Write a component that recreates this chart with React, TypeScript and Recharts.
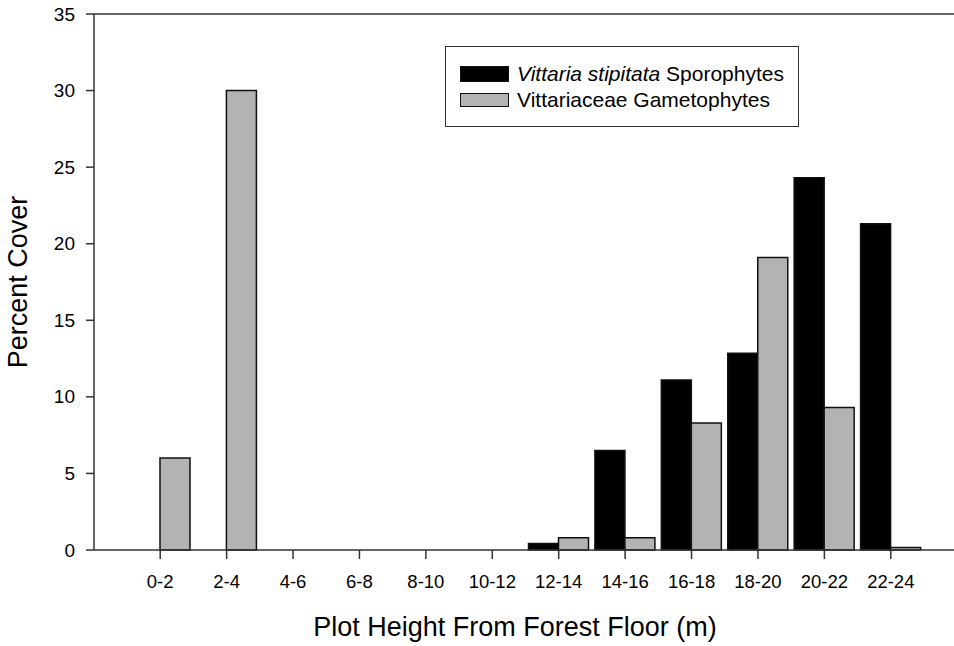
import { BarChart, Bar, XAxis, YAxis, ReferenceLine } from 'recharts';

const heights = ['0-2', '2-4', '4-6', '6-8', '8-10', '10-12', '12-14', '14-16', '16-18', '18-20', '20-22', '22-24'];
const sporophytes = [0, 0, 0, 0, 0, 0, 0.42, 6.5, 11.1, 12.85, 24.3, 21.3];
const gametophytes = [6.0, 30.0, 0, 0, 0, 0, 0.8, 0.8, 8.3, 19.1, 9.3, 0.17];
const yTicks = [0, 5, 10, 15, 20, 25, 30, 35];

const data = heights.map((h, i) => ({
  height: h,
  sporophytes: sporophytes[i],
  gametophytes: gametophytes[i],
}));

const font = 'Arial, "Liberation Sans", sans-serif';
const axisColor = '#333';

// tick text drawn by hand so the size sticks
function XTick(props: any) {
  const { x, payload } = props;
  return (
    <text x={x} y={588} textAnchor="middle" fontFamily={font} fontSize={18.5} fill="#000">
      {payload.value}
    </text>
  );
}

function YTick(props: any) {
  const { y, payload } = props;
  return (
    <text x={75} y={y} textAnchor="end" dominantBaseline="central" fontFamily={font} fontSize={19} fill="#000">
      {payload.value}
    </text>
  );
}

function YTitle(props: any) {
  const vb = props.viewBox || { x: 0, y: 0, width: 0, height: 0 };
  const x = 18;
  const y = vb.y + vb.height / 2;
  return (
    <text
      x={x}
      y={y}
      transform={`rotate(-90, ${x}, ${y})`}
      textAnchor="middle"
      dominantBaseline="central"
      fontFamily={font}
      fontSize={27}
      fill="#000"
    >
      Percent Cover
    </text>
  );
}

function XTitle() {
  return (
    <text x={515} y={636} textAnchor="middle" fontFamily={font} fontSize={27} fill="#000">
      Plot Height From Forest Floor (m)
    </text>
  );
}

export default function App() {
  return (
    <div style={{ position: 'absolute', left: 0, top: 0, width: 954, height: 646, background: '#fff' }}>
      <BarChart
        width={954}
        height={646}
        data={data}
        margin={{ top: 14, right: 0, left: 0, bottom: 0 }}
        barGap={0}
        barSize={30}
      >
        <XAxis
          dataKey="height"
          height={96}
          padding={{ left: 33, right: 30 }}
          stroke={axisColor}
          strokeWidth={1.5}
          tickSize={9}
          tick={<XTick />}
          interval={0}
          label={<XTitle />}
        />
        <YAxis
          width={94}
          domain={[0, 35]}
          ticks={yTicks}
          stroke={axisColor}
          strokeWidth={1.5}
          tickSize={8}
          tick={<YTick />}
          label={<YTitle />}
        />
        <ReferenceLine y={35} stroke={axisColor} strokeWidth={1.5} />
        <Bar
          dataKey="sporophytes"
          name="Vittaria stipitata Sporophytes"
          fill="#000"
          stroke="#111"
          strokeWidth={1.5}
          isAnimationActive={false}
        />
        <Bar
          dataKey="gametophytes"
          name="Vittariaceae Gametophytes"
          fill="#b3b3b3"
          stroke="#111"
          strokeWidth={1.5}
          isAnimationActive={false}
        />
      </BarChart>
      <div
        style={{
          position: 'absolute',
          left: 445,
          top: 46,
          width: 354,
          height: 81,
          border: '1.5px solid #333',
          boxSizing: 'border-box',
          fontFamily: font,
          fontSize: 21,
          color: '#000',
        }}
      >
        <div style={{ position: 'absolute', left: 14, top: 14, display: 'flex', alignItems: 'center', height: 26, whiteSpace: 'nowrap' }}>
          <span style={{ width: 49, height: 16, background: '#000', border: '1px solid #111', boxSizing: 'border-box', marginRight: 8 }} />
          <span>
            <i>Vittaria stipitata</i> Sporophytes
          </span>
        </div>
        <div style={{ position: 'absolute', left: 14, top: 40, display: 'flex', alignItems: 'center', height: 26, whiteSpace: 'nowrap' }}>
          <span style={{ width: 49, height: 14, background: '#b3b3b3', border: '1.5px solid #111', boxSizing: 'border-box', marginRight: 8 }} />
          <span>Vittariaceae Gametophytes</span>
        </div>
      </div>
    </div>
  );
}
